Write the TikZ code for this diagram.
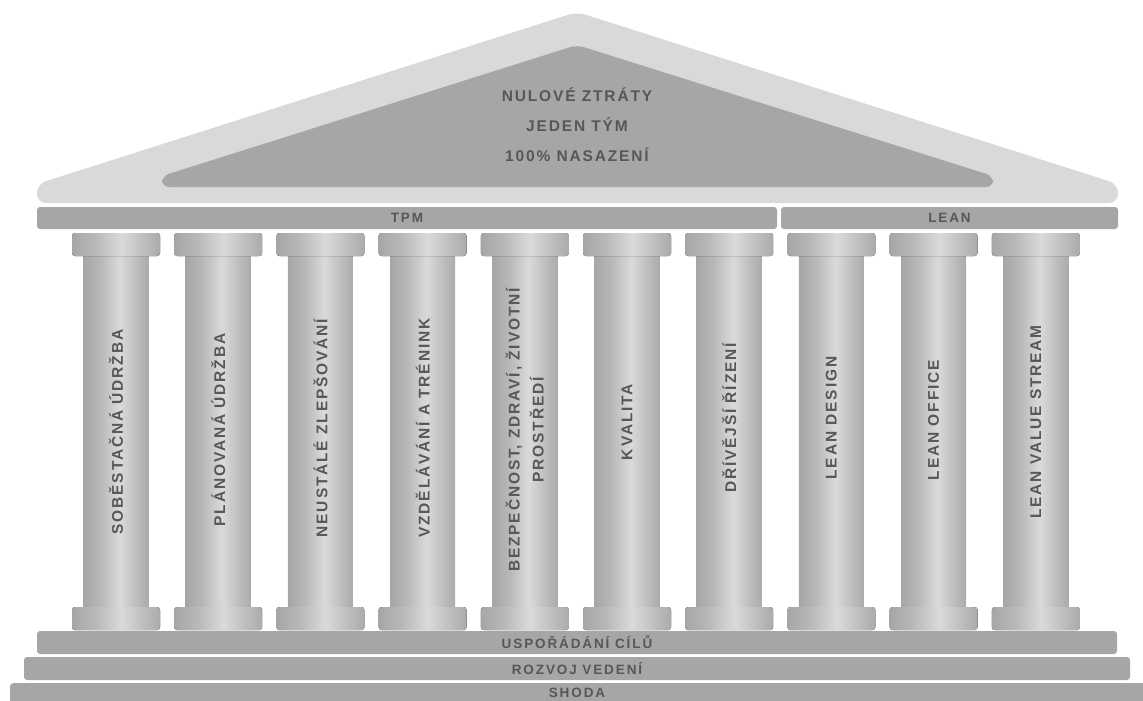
\documentclass[tikz,border=0pt]{standalone}
\usepackage{fontspec}
\setmainfont{Liberation Sans}
\newfontfamily\barfont[LetterSpace=14]{Liberation Sans}
\newfontfamily\pilfont[LetterSpace=12]{Liberation Sans}
\newfontfamily\rooffont[LetterSpace=12]{Liberation Sans}
\definecolor{roofout}{HTML}{D9D9D9}
\definecolor{roofin}{HTML}{A6A6A6}
\definecolor{barcol}{HTML}{A6A6A6}
\definecolor{txtcol}{HTML}{575757}
\definecolor{pA}{HTML}{A6A6A6}
\definecolor{pB}{HTML}{B8B8B8}
\definecolor{pC}{HTML}{DADADA}
\definecolor{pD}{HTML}{BDBDBD}
\definecolor{pE}{HTML}{ABABAB}
\pgfdeclarehorizontalshading{pillarshade}{100bp}{color(0bp)=(pA); color(25bp)=(pA); color(38bp)=(pB); color(53bp)=(pC); color(66bp)=(pD); color(75bp)=(pE); color(100bp)=(pE)}
\begin{document}
\begin{tikzpicture}[x=1pt,y=-1pt,
  bar/.style={fill=barcol, draw=none, rounded corners=3pt, text=txtcol,
     font=\barfont\bfseries\fontsize{13.5}{15}\selectfont, inner sep=0pt},
  capital/.style={shading=pillarshade, draw=none, rounded corners=3pt},
  shaft/.style={shading=pillarshade, draw=none},
  plabel/.style={rotate=90, text=txtcol, align=center,
     font=\pilfont\bfseries\fontsize{15.5}{24}\selectfont},
  rooftext/.style={text=txtcol, font=\rooffont\bfseries\fontsize{15.5}{17}\selectfont}
]
\useasboundingbox (0,0) rectangle (1143,701);
% roof
\fill[roofout, rounded corners=9pt] (577,12) -- (1118,184) -- (1118,203) -- (37,203) -- (37,184) -- cycle;
\fill[roofin, rounded corners=7pt] (577,45) -- (993,176) -- (993,187) -- (162,187) -- (162,176) -- cycle;
\node[rooftext] (r1) at (577,95) {NULOVÉ ZTRÁTY};
\node[rooftext] (r2) at (577,125) {JEDEN TÝM};
\node[rooftext] (r3) at (577,155) {100\% NASAZENÍ};
% top bars
\node[bar, minimum width=740pt, minimum height=22pt] (tpm) at (407,218) {TPM};
\node[bar, minimum width=337pt, minimum height=22pt] (lean) at (949.5,218) {LEAN};
% pillars
\foreach \i in {0,...,9}{
  \pgfmathsetmacro{\cx}{116+102.2*\i}
  \fill[shaft] (\cx-32.5,254) rectangle (\cx+32.5,608);
  \fill[capital] (\cx-44,233) rectangle (\cx+44,256);
  \fill[capital] (\cx-44,607) rectangle (\cx+44,630);
}
\node[plabel] (p1) at (116,432) {SOBĚSTAČNÁ ÚDRŽBA};
\node[plabel] (p2) at (218.2,430) {PLÁNOVANÁ ÚDRŽBA};
\node[plabel] (p3) at (320.4,428) {NEUSTÁLÉ ZLEPŠOVÁNÍ};
\node[plabel] (p4) at (422.6,428) {VZDĚLÁVÁNÍ A TRÉNINK};
\node[plabel] (p5) at (524.8,430) {BEZPEČNOST, ZDRAVÍ, ŽIVOTNÍ\\PROSTŘEDÍ};
\node[plabel] (p6) at (627,422) {KVALITA};
\node[plabel] (p7) at (729.2,418) {DŘÍVĚJŠÍ ŘÍZENÍ};
\node[plabel] (p8) at (831.4,418) {LEAN DESIGN};
\node[plabel] (p9) at (933.6,420) {LEAN OFFICE};
\node[plabel] (p10) at (1035.8,422) {LEAN VALUE STREAM};
% bottom bars
\node[bar, minimum width=1080pt, minimum height=23pt] (usp) at (577,642.5) {USPOŘÁDÁNÍ CÍLŮ};
\node[bar, minimum width=1106pt, minimum height=23pt] (rozvoj) at (577,668.5) {ROZVOJ VEDENÍ};
\node[bar, minimum width=1136pt, minimum height=23pt, anchor=north west] (shoda) at (10,683) {};
\node[text=txtcol, font=\barfont\bfseries\fontsize{13.5}{15}\selectfont] (shodatext) at (577,693) {SHODA};
\end{tikzpicture}
\end{document}
